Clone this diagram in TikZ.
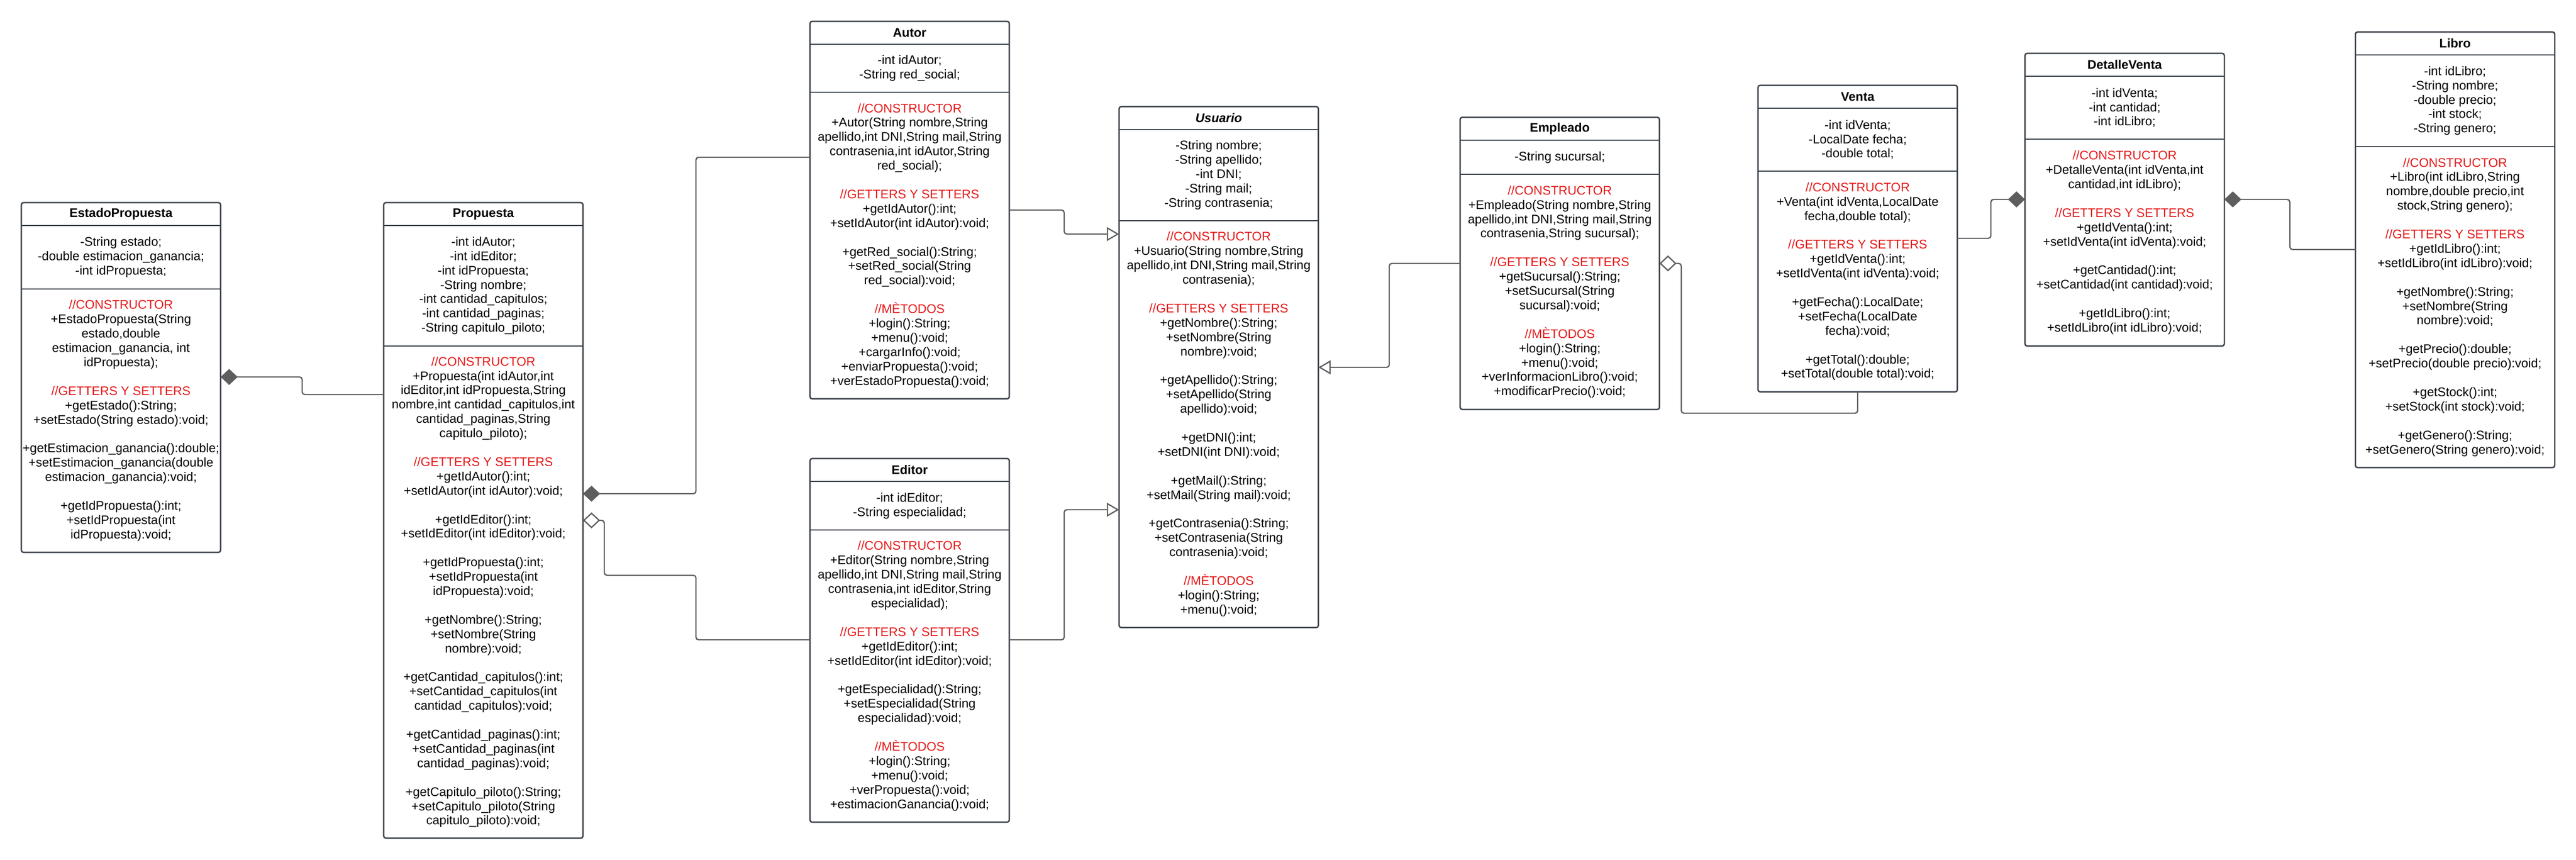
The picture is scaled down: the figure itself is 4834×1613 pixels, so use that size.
\documentclass[tikz,border=0pt]{standalone}
\usepackage{fontspec}
\setmainfont{Liberation Sans}
\usetikzlibrary{arrows.meta, positioning, fit}

\definecolor{boxgray}{HTML}{3A414A}
\definecolor{linkgray}{HTML}{5E5E5E}
\definecolor{secred}{HTML}{E61919}
\newcommand{\redsec}[1]{\textcolor{secred}{#1}}
\newcommand{\skipln}{\\[26.9pt]}

\begin{document}
\begin{tikzpicture}[x=1pt, y=-1pt,
            font=\fontsize{23.5}{26.9}\selectfont,
            ctitle/.style={anchor=north west, minimum width=374pt, minimum height=43pt, inner sep=0pt, outer sep=0pt, font=\fontsize{23.5}{26.9}\selectfont\bfseries},
            cpart/.style={minimum width=374pt, inner sep=0pt, outer sep=0pt, align=center},
            cframe/.style={draw=boxgray, line width=2.6pt, rounded corners=4pt, inner sep=0pt},
            link/.style={draw=linkgray, line width=2.4pt, rounded corners=5pt},
            comp/.style={link, -{Diamond[length=32pt, width=30pt, fill=linkgray]}},
            aggr/.style={link, -{Diamond[open, length=32pt, width=30pt]}},
            inherit/.style={link, -{Triangle[open, length=23pt, width=26pt]}}]

            \path[use as bounding box, fill=white] (0,0) rectangle (4834,1613);

            % EstadoPropuesta
            \node[ctitle] (estadotitle) at (40,380) {EstadoPropuesta};
            \node[cpart, minimum height=119pt, below=0pt of estadotitle] (estadoattr) {-String estado;\\-double estimacion\_ganancia;\\-int idPropuesta;};
            \node[cpart, minimum height=494pt, below=0pt of estadoattr] (estadometh) {\redsec{//CONSTRUCTOR}\\+EstadoPropuesta(String\\estado,double\\estimacion\_ganancia, int\\idPropuesta);\skipln
                \redsec{//GETTERS Y SETTERS}\\+getEstado():String;\\+setEstado(String estado):void;\skipln
                +getEstimacion\_ganancia():double;\\+setEstimacion\_ganancia(double\\estimacion\_ganancia):void;\skipln
                +getIdPropuesta():int;\\+setIdPropuesta(int\\idPropuesta):void;};

            % Propuesta
            \node[ctitle] (propuestatitle) at (720,380) {Propuesta};
            \node[cpart, minimum height=226pt, below=0pt of propuestatitle] (propuestaattr) {-int idAutor;\\-int idEditor;\\-int idPropuesta;\\-String nombre;\\-int cantidad\_capitulos;\\-int cantidad\_paginas;\\-String capitulo\_piloto;};
            \node[cpart, minimum height=923pt, below=0pt of propuestaattr] (propuestameth) {\redsec{//CONSTRUCTOR}\\+Propuesta(int idAutor,int\\idEditor,int idPropuesta,String\\nombre,int cantidad\_capitulos,int\\cantidad\_paginas,String\\capitulo\_piloto);\skipln
                \redsec{//GETTERS Y SETTERS}\\+getIdAutor():int;\\+setIdAutor(int idAutor):void;\skipln
                +getIdEditor():int;\\+setIdEditor(int idEditor):void;\skipln
                +getIdPropuesta():int;\\+setIdPropuesta(int\\idPropuesta):void;\skipln
                +getNombre():String;\\+setNombre(String\\nombre):void;\skipln
                +getCantidad\_capitulos():int;\\+setCantidad\_capitulos(int\\cantidad\_capitulos):void;\skipln
                +getCantidad\_paginas():int;\\+setCantidad\_paginas(int\\cantidad\_paginas):void;\skipln
                +getCapitulo\_piloto():String;\\+setCapitulo\_piloto(String\\capitulo\_piloto):void;};

            % Autor
            \node[ctitle] (autortitle) at (1520,40) {Autor};
            \node[cpart, minimum height=90pt, below=0pt of autortitle] (autorattr) {-int idAutor;\\-String red\_social;};
            \node[cpart, minimum height=575pt, below=0pt of autorattr] (autormeth) {\redsec{//CONSTRUCTOR}\\+Autor(String nombre,String\\apellido,int DNI,String mail,String\\contrasenia,int idAutor,String\\red\_social);\skipln
                \redsec{//GETTERS Y SETTERS}\\+getIdAutor():int;\\+setIdAutor(int idAutor):void;\skipln
                +getRed\_social():String;\\+setRed\_social(String\\red\_social):void;\skipln
                \redsec{//MÈTODOS}\\+login():String;\\+menu():void;\\+cargarInfo():void;\\+enviarPropuesta():void;\\+verEstadoPropuesta():void;};

            % Editor
            \node[ctitle] (editortitle) at (1520,860) {Editor};
            \node[cpart, minimum height=91pt, below=0pt of editortitle] (editorattr) {-int idEditor;\\-String especialidad;};
            \node[cpart, minimum height=548pt, below=0pt of editorattr] (editormeth) {\redsec{//CONSTRUCTOR}\\+Editor(String nombre,String\\apellido,int DNI,String mail,String\\contrasenia,int idEditor,String\\especialidad);\skipln
                \redsec{//GETTERS Y SETTERS}\\+getIdEditor():int;\\+setIdEditor(int idEditor):void;\skipln
                +getEspecialidad():String;\\+setEspecialidad(String\\especialidad):void;\skipln
                \redsec{//MÈTODOS}\\+login():String;\\+menu():void;\\+verPropuesta():void;\\+estimacionGanancia():void;};

            % Usuario (abstracta)
            \node[ctitle, font=\fontsize{23.5}{26.9}\selectfont\bfseries\itshape] (usuariotitle) at (2100,200) {Usuario};
            \node[cpart, minimum height=171pt, below=0pt of usuariotitle] (usuarioattr) {-String nombre;\\-String apellido;\\-int DNI;\\-String mail;\\-String contrasenia;};
            \node[cpart, minimum height=763pt, below=0pt of usuarioattr] (usuariometh) {\redsec{//CONSTRUCTOR}\\+Usuario(String nombre,String\\apellido,int DNI,String mail,String\\contrasenia);\skipln
                \redsec{//GETTERS Y SETTERS}\\+getNombre():String;\\+setNombre(String\\nombre):void;\skipln
                +getApellido():String;\\+setApellido(String\\apellido):void;\skipln
                +getDNI():int;\\+setDNI(int DNI):void;\skipln
                +getMail():String;\\+setMail(String mail):void;\skipln
                +getContrasenia():String;\\+setContrasenia(String\\contrasenia):void;\skipln
                \redsec{//MÈTODOS}\\+login():String;\\+menu():void;};

            % Empleado
            \node[ctitle] (empleadotitle) at (2740,220) {Empleado};
            \node[cpart, minimum height=64pt, below=0pt of empleadotitle] (empleadoattr) {-String sucursal;};
            \node[cpart, minimum height=441pt, below=0pt of empleadoattr] (empleadometh) {\redsec{//CONSTRUCTOR}\\+Empleado(String nombre,String\\apellido,int DNI,String mail,String\\contrasenia,String sucursal);\skipln
                \redsec{//GETTERS Y SETTERS}\\+getSucursal():String;\\+setSucursal(String\\sucursal):void;\skipln
                \redsec{//MÈTODOS}\\+login():String;\\+menu():void;\\+verInformacionLibro():void;\\+modificarPrecio():void;};

            % Venta
            \node[ctitle] (ventatitle) at (3299,160) {Venta};
            \node[cpart, minimum height=118pt, below=0pt of ventatitle] (ventaattr) {-int idVenta;\\-LocalDate fecha;\\-double total;};
            \node[cpart, minimum height=414pt, below=0pt of ventaattr] (ventameth) {\redsec{//CONSTRUCTOR}\\+Venta(int idVenta,LocalDate\\fecha,double total);\skipln
                \redsec{//GETTERS Y SETTERS}\\+getIdVenta():int;\\+setIdVenta(int idVenta):void;\skipln
                +getFecha():LocalDate;\\+setFecha(LocalDate\\fecha):void;\skipln
                +getTotal():double;\\+setTotal(double total):void;};

            % DetalleVenta
            \node[ctitle] (detalletitle) at (3800,100) {DetalleVenta};
            \node[cpart, minimum height=118pt, below=0pt of detalletitle] (detalleattr) {-int idVenta;\\-int cantidad;\\-int idLibro;};
            \node[cpart, minimum height=388pt, below=0pt of detalleattr] (detallemeth) {\redsec{//CONSTRUCTOR}\\+DetalleVenta(int idVenta,int\\cantidad,int idLibro);\skipln
                \redsec{//GETTERS Y SETTERS}\\+getIdVenta():int;\\+setIdVenta(int idVenta):void;\skipln
                +getCantidad():int;\\+setCantidad(int cantidad):void;\skipln
                +getIdLibro():int;\\+setIdLibro(int idLibro):void;};

            % Libro
            \node[ctitle] (librotitle) at (4420,60) {Libro};
            \node[cpart, minimum height=172pt, below=0pt of librotitle] (libroattr) {-int idLibro;\\-String nombre;\\-double precio;\\-int stock;\\-String genero;};
            \node[cpart, minimum height=602pt, below=0pt of libroattr] (librometh) {\redsec{//CONSTRUCTOR}\\+Libro(int idLibro,String\\nombre,double precio,int\\stock,String genero);\skipln
                \redsec{//GETTERS Y SETTERS}\\+getIdLibro():int;\\+setIdLibro(int idLibro):void;\skipln
                +getNombre():String;\\+setNombre(String\\nombre):void;\skipln
                +getPrecio():double;\\+setPrecio(double precio):void;\skipln
                +getStock():int;\\+setStock(int stock):void;\skipln
                +getGenero():String;\\+setGenero(String genero):void;};

            % class frames and compartment lines
            \foreach \c in {estado,propuesta,autor,editor,usuario,empleado,venta,detalle,libro} {
                \node[cframe, fit=(\c title)(\c meth)] (\c) {};
                \draw[boxgray, line width=2.6pt] (\c attr.north west) -- (\c attr.north east)
                    (\c meth.north west) -- (\c meth.north east);
            }

            % composition / aggregation
            \draw[comp] (propuestameth.west |- 0,740) -- ++(-153,0) |- (estadometh.east |- 0,707);
            \draw[comp] (autormeth.west |- 0,295) -- ++(-214,0) |- (propuestameth.east |- 0,926);
            \draw[aggr] (editormeth.west |- 0,1200) -- ++(-214,0) |- (1134,1079) |- (propuestameth.east |- 0,976);
            \draw[aggr] (ventameth.south) -- ++(0,40) -| (3155,494) -- (empleadometh.east |- 0,494);
            \draw[comp] (ventameth.east |- 0,447) -- ++(63,0) |- (detallemeth.west |- 0,374);
            \draw[comp] (librometh.west |- 0,468) -- ++(-123,0) |- (detallemeth.east |- 0,374);

            % inheritance
            \draw[inherit] (autormeth.east |- 0,394) -- ++(103,0) |- (usuariometh.west |- 0,439);
            \draw[inherit] (editormeth.east |- 0,1200) -- ++(103,0) |- (usuariometh.west |- 0,956);
            \draw[inherit] (empleadometh.west |- 0,494) -- ++(-133,0) |- (usuariometh.east |- 0,689);
        \end{tikzpicture}
\end{document}
